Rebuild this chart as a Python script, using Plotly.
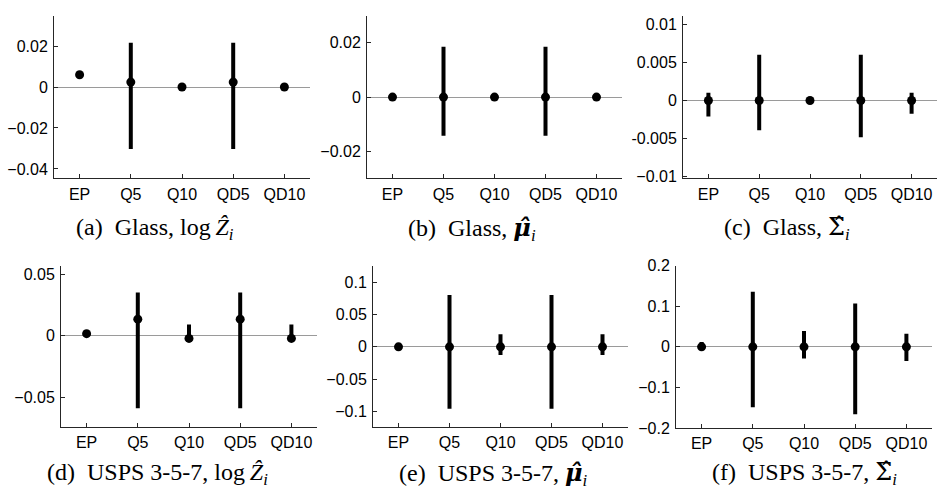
import plotly.graph_objects as go

# Categories shared by every panel
CATEGORIES = ["EP", "Q5", "Q10", "QD5", "QD10"]

# (a) Glass, log Z_i : point estimate and lower/upper ends of the bar
GLASS_LOGZ_MEAN = [0.006, 0.0024, 0.0, 0.0024, 0.0]
GLASS_LOGZ_HI = [0.006, 0.0216, 0.0, 0.0216, 0.0]
GLASS_LOGZ_LO = [0.006, -0.0303, 0.0, -0.0303, 0.0]

# (b) Glass, mu_i
GLASS_MU_MEAN = [0.0, 0.0, 0.0, 0.0, 0.0]
GLASS_MU_HI = [0.0, 0.0186, 0.0, 0.0186, 0.0]
GLASS_MU_LO = [0.0, -0.0143, 0.0, -0.0143, 0.0]

# (c) Glass, Sigma_i
GLASS_SIGMA_MEAN = [0.0, 0.0, 0.0, 0.0, 0.0]
GLASS_SIGMA_HI = [0.001, 0.006, 0.0, 0.006, 0.001]
GLASS_SIGMA_LO = [-0.0021, -0.0039, 0.0, -0.0048, -0.00175]

# (d) USPS 3-5-7, log Z_i
USPS_LOGZ_MEAN = [0.0018, 0.0136, -0.0021, 0.0136, -0.0021]
USPS_LOGZ_HI = [0.0018, 0.0354, 0.0092, 0.0354, 0.0092]
USPS_LOGZ_LO = [0.0018, -0.059, -0.0021, -0.059, -0.0021]

# (e) USPS 3-5-7, mu_i
USPS_MU_MEAN = [0.0, 0.0, 0.0, 0.0, 0.0]
USPS_MU_HI = [0.0, 0.080, 0.0194, 0.080, 0.0194]
USPS_MU_LO = [0.0, -0.0955, -0.0124, -0.0955, -0.0124]

# (f) USPS 3-5-7, Sigma_i
USPS_SIGMA_MEAN = [0.0, 0.0, 0.0, 0.0, 0.0]
USPS_SIGMA_HI = [0.012, 0.136, 0.039, 0.107, 0.032]
USPS_SIGMA_LO = [-0.004, -0.149, -0.029, -0.166, -0.035]

# y tick values and labels per panel
TICKS_A = [-0.04, -0.02, 0, 0.02]
LABELS_A = ["\u22120.04", "\u22120.02", "0", "0.02"]
TICKS_B = [-0.02, 0, 0.02]
LABELS_B = ["\u22120.02", "0", "0.02"]
TICKS_C = [-0.01, -0.005, 0, 0.005, 0.01]
LABELS_C = ["\u22120.01", "-0.005", "0", "0.005", "0.01"]
TICKS_D = [-0.05, 0, 0.05]
LABELS_D = ["\u22120.05", "0", "0.05"]
TICKS_E = [-0.1, -0.05, 0, 0.05, 0.1]
LABELS_E = ["\u22120.1", "\u22120.05", "0", "0.05", "0.1"]
TICKS_F = [-0.2, -0.1, 0, 0.1, 0.2]
LABELS_F = ["\u22120.2", "\u22120.1", "0", "0.1", "0.2"]

GAP = "\u00a0\u00a0"
MU_HAT = "<span style=\"font-family:'DejaVu Serif'\"><b><i>\u03BC\u0302</i></b></span>"
SIGMA_HAT = "<span style=\"font-family:'DejaVu Serif'\">\u03A3\u0302</span>"
Z_HAT = "<i>\u1E90</i>"
SUB_I = "<sub><i>i</i></sub>"

CAPTIONS = [
    "(a)" + GAP + "Glass, log\u2009" + Z_HAT + SUB_I,
    "(b)" + GAP + "Glass, " + MU_HAT + SUB_I,
    "(c)" + GAP + "Glass, " + SIGMA_HAT + SUB_I,
    "(d)" + GAP + "USPS 3-5-7, log\u2009" + Z_HAT + SUB_I,
    "(e)" + GAP + "USPS 3-5-7, " + MU_HAT + SUB_I,
    "(f)" + GAP + "USPS 3-5-7, " + SIGMA_HAT + SUB_I,
]

W, H = 938, 502

series = [
    (GLASS_LOGZ_MEAN, GLASS_LOGZ_HI, GLASS_LOGZ_LO, TICKS_A, LABELS_A, [-0.0446, 0.0348]),
    (GLASS_MU_MEAN, GLASS_MU_HI, GLASS_MU_LO, TICKS_B, LABELS_B, [-0.030, 0.030]),
    (GLASS_SIGMA_MEAN, GLASS_SIGMA_HI, GLASS_SIGMA_LO, TICKS_C, LABELS_C, [-0.0102, 0.0111]),
    (USPS_LOGZ_MEAN, USPS_LOGZ_HI, USPS_LOGZ_LO, TICKS_D, LABELS_D, [-0.0744, 0.0565]),
    (USPS_MU_MEAN, USPS_MU_HI, USPS_MU_LO, TICKS_E, LABELS_E, [-0.124, 0.124]),
    (USPS_SIGMA_MEAN, USPS_SIGMA_HI, USPS_SIGMA_LO, TICKS_F, LABELS_F, [-0.2005, 0.2005]),
]

# plot-area boxes in pixels: (left, right, top, bottom)
boxes = [
    (54, 310, 8, 176),
    (367, 622, 8, 176),
    (683, 937, 8, 176),
    (61, 317, 267, 433),
    (373, 628, 267, 433),
    (676, 932, 266, 434),
]

# caption centres in pixels
caption_pos = [(155, 228), (472, 228), (787, 228), (157, 481), (493, 481), (804, 481)]

AXIS_COLOR = "#262626"
SANS = "Liberation Sans, Arial, sans-serif"
SERIF = "Liberation Serif, Times New Roman, serif"

fig = go.Figure()
layout = dict(
    width=W, height=H,
    margin=dict(l=0, r=0, t=0, b=0),
    paper_bgcolor="white", plot_bgcolor="white",
    showlegend=False,
    annotations=[],
)

for k, (mean, hi, lo, tv, tt, yr) in enumerate(series):
    n = k + 1
    suffix = "" if n == 1 else str(n)
    fig.add_trace(go.Scatter(
        x=CATEGORIES, y=mean, mode="markers",
        marker=dict(color="black", size=9),
        error_y=dict(
            type="data", symmetric=False,
            array=[h - m for h, m in zip(hi, mean)],
            arrayminus=[m - l for m, l in zip(mean, lo)],
            thickness=4, width=0, color="black",
        ),
        xaxis="x" + suffix, yaxis="y" + suffix,
        hoverinfo="skip", cliponaxis=False,
    ))
    x0, x1, y0, y1 = boxes[k]
    layout["xaxis" + suffix] = dict(
        domain=[x0 / W, x1 / W], anchor="y" + suffix,
        type="category", range=[-0.5, 4.5],
        showline=True, linecolor=AXIS_COLOR, linewidth=1,
        ticks="inside", ticklen=4, tickcolor=AXIS_COLOR, tickwidth=1,
        showgrid=False, zeroline=False,
        tickfont=dict(family=SANS, size=16, color="black"),
        ticklabelstandoff=1,
    )
    layout["yaxis" + suffix] = dict(
        domain=[1 - y1 / H, 1 - y0 / H], anchor="x" + suffix,
        range=yr, tickmode="array", tickvals=tv, ticktext=tt,
        showline=True, linecolor=AXIS_COLOR, linewidth=1,
        ticks="inside", ticklen=4, tickcolor=AXIS_COLOR, tickwidth=1,
        showgrid=False,
        zeroline=True, zerolinecolor="#9a9a9a", zerolinewidth=1,
        tickfont=dict(family=SANS, size=16, color="black"),
        ticklabelstandoff=2,
    )
    cx, cy = caption_pos[k]
    layout["annotations"].append(dict(
        text=CAPTIONS[k], x=cx / W, y=1 - cy / H,
        xref="paper", yref="paper", xanchor="center", yanchor="middle",
        showarrow=False, font=dict(family=SERIF, size=24, color="black"),
    ))

fig.update_layout(**layout)
fig.write_html("out.html")
